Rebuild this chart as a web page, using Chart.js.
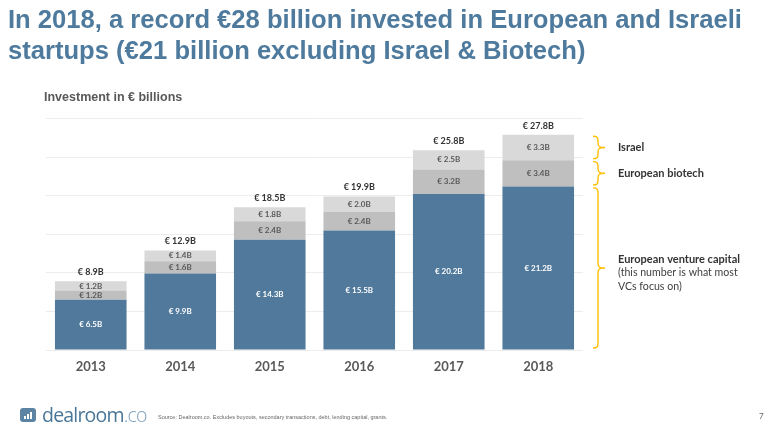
<!DOCTYPE html>
<html>
<head>
<meta charset="utf-8">
<script src="https://cdn.jsdelivr.net/npm/chart.js@4/dist/chart.umd.min.js"></script>
<style>
  html, body { margin: 0; padding: 0; background: #fff; }
  #page { position: relative; width: 768px; height: 431px; overflow: hidden; font-family: "Liberation Sans", Arial, sans-serif; }
  #chart { position: absolute; left: 0; top: 0; }
  .title { position: absolute; left: 8px; top: 4px; color: #4e7a9d; font-weight: bold; font-size: 25.6px; line-height: 31px; }
  .sub { position: absolute; left: 44px; top: 90px; color: #595959; font-weight: bold; font-size: 12.5px; }
  .icon { position: absolute; left: 20px; top: 408px; width: 16px; height: 14px; background: #5a83a4; border-radius: 3px; }
  .icon i { position: absolute; bottom: 3px; width: 2px; background: #fff; }
  .brand { position: absolute; left: 42px; top: 401px; font-family: "Open Sans", sans-serif; font-size: 19.5px; color: #4a7698; letter-spacing: -0.8px; }
  .brand span { color: #7fa1bd; font-weight: 300; }
  .source { position: absolute; left: 158px; top: 414px; font-size: 5.5px; color: #666; font-family: "Liberation Sans Narrow", "Liberation Sans", sans-serif; }
  .pgnum { position: absolute; left: 759px; top: 411px; font-size: 8px; color: #666; font-family: Lato, sans-serif; }
</style>
</head>
<body>
<div id="page">
  <canvas id="chart" width="768" height="431"></canvas>
  <div class="title">In 2018, a record €28 billion invested in European and Israeli<br>startups (€21 billion excluding Israel &amp; Biotech)</div>
  <div class="sub">Investment in € billions</div>
  <div class="icon"><i style="left:4px;height:3px"></i><i style="left:7px;height:5px"></i><i style="left:10px;height:7px"></i></div>
  <div class="brand">dealroom<span>.co</span></div>
  <div class="source">Source: Dealroom.co. Excludes buyouts, secondary transactions, debt, lending capital, grants.</div>
  <div class="pgnum">7</div>
</div>
<script>
const years = ['2013', '2014', '2015', '2016', '2017', '2018'];
const ventureCapital = [6.5, 9.9, 14.3, 15.5, 20.2, 21.2];
const biotech = [1.2, 1.6, 2.4, 2.4, 3.2, 3.4];
const israel = [1.2, 1.4, 1.8, 2.0, 2.5, 3.3];
const totals = [8.9, 12.9, 18.5, 19.9, 25.8, 27.8];
const yTicks = [0, 5, 10, 15, 20, 25, 30];

const seriesNames = ['European venture capital', 'European biotech', 'Israel'];
const seriesColors = ['#50799b', '#bfbfbf', '#d9d9d9'];
const labelColors = ['#ffffff', '#595959', '#595959'];

const fmt = (v) => '€ ' + v.toFixed(1) + 'B';

// labels inside bars, totals on top, braces at the right
const annotate = {
  id: 'annotate',
  afterDatasetsDraw(chart) {
    const ctx = chart.ctx;
    ctx.save();
    ctx.textAlign = 'center';
    ctx.textBaseline = 'middle';

    chart.data.datasets.forEach((ds, i) => {
      const meta = chart.getDatasetMeta(i);
      ctx.fillStyle = labelColors[i];
      ctx.font = 'bold 8px Lato, sans-serif';
      meta.data.forEach((bar, j) => {
        const mid = (bar.y + bar.base) / 2;
        ctx.fillText(fmt(ds.data[j]), bar.x, mid);
      });
    });

    const top = chart.getDatasetMeta(2);
    ctx.fillStyle = '#333333';
    ctx.font = 'bold 9px Lato, sans-serif';
    top.data.forEach((bar, j) => {
      ctx.fillText(fmt(totals[j]), bar.x, bar.y - 9);
    });

    // braces for the last bar
    const last = years.length - 1;
    const bx = 598;
    ctx.strokeStyle = '#ffc000';
    ctx.lineWidth = 1.4;
    const segs = [];
    for (let i = 0; i < 3; i++) {
      const bar = chart.getDatasetMeta(i).data[last];
      segs.push([bar.y, bar.base]);
    }
    segs.forEach(([t, b]) => {
      const a = t + 1.5, z = b - 1.5, m = (a + z) / 2, r = 5, tip = 7;
      ctx.beginPath();
      ctx.moveTo(bx - r, a);
      ctx.bezierCurveTo(bx - 1, a, bx, a + 1, bx, a + r);
      ctx.lineTo(bx, m - r);
      ctx.bezierCurveTo(bx, m - 1, bx + 1, m, bx + tip, m);
      ctx.bezierCurveTo(bx + 1, m, bx, m + 1, bx, m + r);
      ctx.lineTo(bx, z - r);
      ctx.bezierCurveTo(bx, z - 1, bx - 1, z, bx - r, z);
      ctx.stroke();
    });

    ctx.textAlign = 'left';
    ctx.fillStyle = '#333333';
    ctx.font = 'bold 11px Lato, sans-serif';
    ctx.fillText(seriesNames[2], 618, (segs[2][0] + segs[2][1]) / 2);
    ctx.fillText(seriesNames[1], 618, (segs[1][0] + segs[1][1]) / 2);
    const vm = (segs[0][0] + segs[0][1]) / 2;
    ctx.fillText(seriesNames[0], 618, vm - 9);
    ctx.font = '10.6px Lato, sans-serif';
    ctx.fillStyle = '#404040';
    ctx.fillText('(this number is what most', 618, vm + 5);
    ctx.fillText('VCs focus on)', 618, vm + 19);
    ctx.restore();
  }
};

new Chart(document.getElementById('chart'), {
  type: 'bar',
  data: {
    labels: years,
    datasets: [ventureCapital, biotech, israel].map((d, i) => ({
      label: seriesNames[i],
      data: d,
      backgroundColor: seriesColors[i],
      borderWidth: 0,
      categoryPercentage: 0.8,
      barPercentage: 1
    }))
  },
  options: {
    responsive: false,
    animation: false,
    layout: { padding: { left: 46, right: 185, top: 118.5, bottom: 0 } },
    plugins: { legend: { display: false }, tooltip: { enabled: false } },
    scales: {
      x: {
        stacked: true,
        grid: { display: false, drawTicks: false },
        border: { display: false },
        ticks: { color: '#595959', font: { family: 'Lato', size: 13, weight: 'bold' }, padding: 9 },
        afterFit: (s) => { s.height = 81; }
      },
      y: {
        stacked: true,
        min: 0,
        max: 30,
        afterBuildTicks: (s) => { s.ticks = yTicks.map((v) => ({ value: v })); },
        ticks: { display: false },
        grid: { color: '#ececec', lineWidth: 1, drawTicks: false },
        border: { display: false },
        afterFit: (s) => { s.width = 0; }
      }
    }
  },
  plugins: [annotate]
});
</script>
</body>
</html>
